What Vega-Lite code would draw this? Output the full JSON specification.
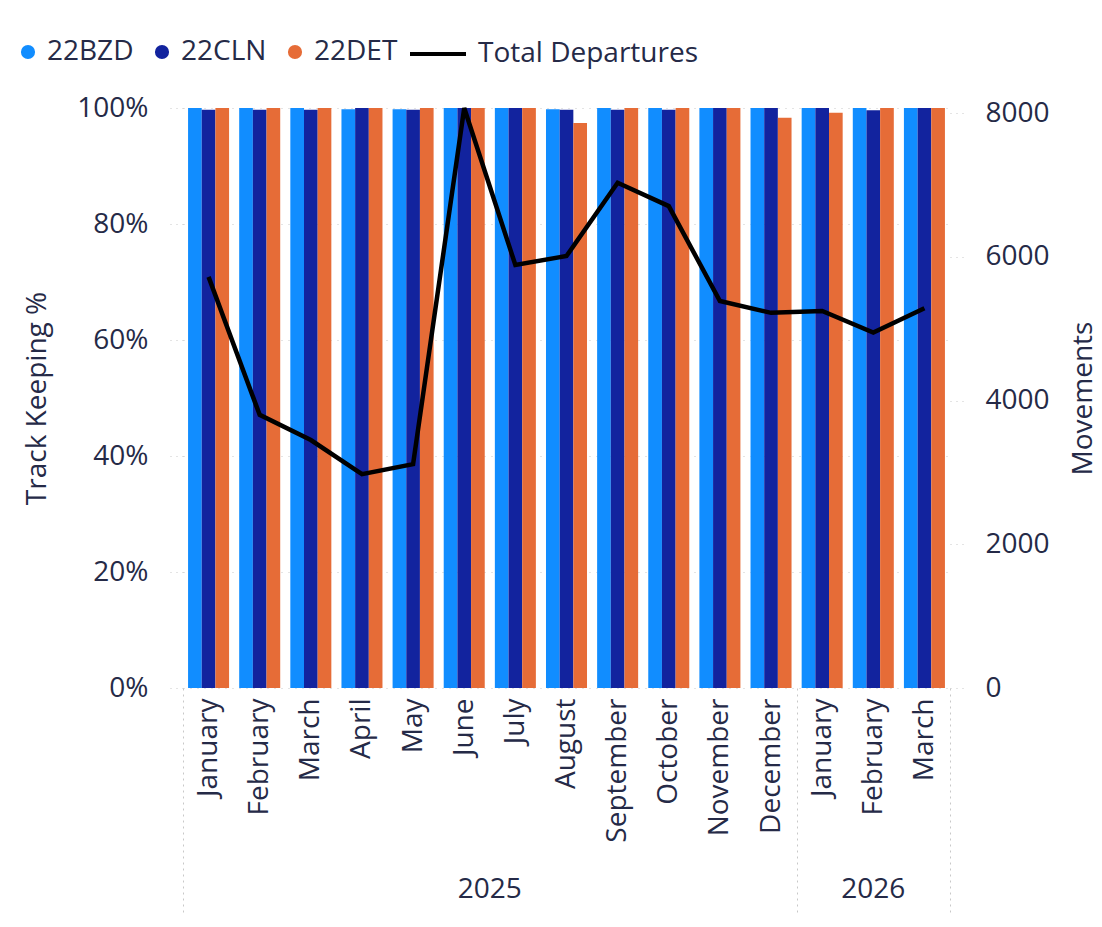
{
  "$schema": "https://vega.github.io/schema/vega-lite/v6.json",
  "autosize": {"type": "none"},
  "padding": {"left": 183, "top": 108, "right": 152, "bottom": 239},
  "width": 767,
  "height": 580,
  "background": "white",
  "config": {
    "font": "Open Sans",
    "view": {"stroke": null},
    "axis": {
      "labelColor": "#252A47",
      "titleColor": "#252A47",
      "labelFont": "Open Sans",
      "titleFont": "Open Sans",
      "labelFontSize": 28,
      "titleFontSize": 28,
      "titleFontWeight": "normal"
    },
    "legend": {
      "labelFont": "Open Sans",
      "labelFontSize": 28,
      "labelColor": "#252A47",
      "labelLimit": 400
    }
  },
  "datasets": {
    "bars": [
      {"key": "2025|January", "series": "22BZD", "pct": 1.0},
      {"key": "2025|January", "series": "22CLN", "pct": 0.997},
      {"key": "2025|January", "series": "22DET", "pct": 1.0},
      {"key": "2025|February", "series": "22BZD", "pct": 1.0},
      {"key": "2025|February", "series": "22CLN", "pct": 0.997},
      {"key": "2025|February", "series": "22DET", "pct": 1.0},
      {"key": "2025|March", "series": "22BZD", "pct": 1.0},
      {"key": "2025|March", "series": "22CLN", "pct": 0.997},
      {"key": "2025|March", "series": "22DET", "pct": 1.0},
      {"key": "2025|April", "series": "22BZD", "pct": 0.998},
      {"key": "2025|April", "series": "22CLN", "pct": 1.0},
      {"key": "2025|April", "series": "22DET", "pct": 1.0},
      {"key": "2025|May", "series": "22BZD", "pct": 0.998},
      {"key": "2025|May", "series": "22CLN", "pct": 0.997},
      {"key": "2025|May", "series": "22DET", "pct": 1.0},
      {"key": "2025|June", "series": "22BZD", "pct": 1.0},
      {"key": "2025|June", "series": "22CLN", "pct": 1.0},
      {"key": "2025|June", "series": "22DET", "pct": 1.0},
      {"key": "2025|July", "series": "22BZD", "pct": 1.0},
      {"key": "2025|July", "series": "22CLN", "pct": 1.0},
      {"key": "2025|July", "series": "22DET", "pct": 1.0},
      {"key": "2025|August", "series": "22BZD", "pct": 0.998},
      {"key": "2025|August", "series": "22CLN", "pct": 0.997},
      {"key": "2025|August", "series": "22DET", "pct": 0.974},
      {"key": "2025|September", "series": "22BZD", "pct": 1.0},
      {"key": "2025|September", "series": "22CLN", "pct": 0.997},
      {"key": "2025|September", "series": "22DET", "pct": 1.0},
      {"key": "2025|October", "series": "22BZD", "pct": 1.0},
      {"key": "2025|October", "series": "22CLN", "pct": 0.997},
      {"key": "2025|October", "series": "22DET", "pct": 1.0},
      {"key": "2025|November", "series": "22BZD", "pct": 1.0},
      {"key": "2025|November", "series": "22CLN", "pct": 1.0},
      {"key": "2025|November", "series": "22DET", "pct": 1.0},
      {"key": "2025|December", "series": "22BZD", "pct": 1.0},
      {"key": "2025|December", "series": "22CLN", "pct": 1.0},
      {"key": "2025|December", "series": "22DET", "pct": 0.983},
      {"key": "2026|January", "series": "22BZD", "pct": 1.0},
      {"key": "2026|January", "series": "22CLN", "pct": 1.0},
      {"key": "2026|January", "series": "22DET", "pct": 0.992},
      {"key": "2026|February", "series": "22BZD", "pct": 1.0},
      {"key": "2026|February", "series": "22CLN", "pct": 0.996},
      {"key": "2026|February", "series": "22DET", "pct": 1.0},
      {"key": "2026|March", "series": "22BZD", "pct": 1.0},
      {"key": "2026|March", "series": "22CLN", "pct": 1.0},
      {"key": "2026|March", "series": "22DET", "pct": 1.0}
    ],
    "dep": [
      {"key": "2025|January", "departures": 5720},
      {"key": "2025|February", "departures": 3800},
      {"key": "2025|March", "departures": 3450},
      {"key": "2025|April", "departures": 2975},
      {"key": "2025|May", "departures": 3115},
      {"key": "2025|June", "departures": 8070},
      {"key": "2025|July", "departures": 5885},
      {"key": "2025|August", "departures": 6010},
      {"key": "2025|September", "departures": 7030},
      {"key": "2025|October", "departures": 6705},
      {"key": "2025|November", "departures": 5385},
      {"key": "2025|December", "departures": 5220},
      {"key": "2026|January", "departures": 5245},
      {"key": "2026|February", "departures": 4945},
      {"key": "2026|March", "departures": 5285}
    ]
  },
  "layer": [
    {
      "data": {"name": "bars"},
      "mark": {"type": "bar"},
      "encoding": {
        "x": {
          "field": "key",
          "type": "nominal",
          "scale": {
            "domain": ["2025|January", "2025|February", "2025|March", "2025|April", "2025|May", "2025|June", "2025|July", "2025|August", "2025|September", "2025|October", "2025|November", "2025|December", "2026|January", "2026|February", "2026|March"],
            "paddingInner": 0,
            "paddingOuter": 0
          },
          "axis": {
            "orient": "bottom",
            "title": null,
            "labelAngle": -90,
            "labelExpr": "isValid(datum.value) ? split(datum.value, '|')[1] : ''",
            "domain": false,
            "grid": false,
            "tickBand": "extent",
            "ticks": true,
            "tickSize": 227,
            "tickColor": "#C8C8C8",
            "tickDash": [2, 4],
            "tickWidth": 1,
            "tickOpacity": {"condition": {"test": "!isValid(datum.value) || datum.value === '2025|December' || datum.value === '2026|March'", "value": 1}, "value": 0},
            "labelPadding": -217
          }
        },
        "xOffset": {
          "field": "series",
          "type": "nominal",
          "scale": {"domain": ["22BZD", "22CLN", "22DET"], "paddingInner": 0, "paddingOuter": 0.37}
        },
        "y": {
          "field": "pct",
          "type": "quantitative",
          "scale": {"domain": [0, 1]},
          "axis": {
            "title": "Track Keeping %",
            "format": ".0%",
            "values": [0, 0.2, 0.4, 0.6, 0.8, 1],
            "grid": true,
            "gridDash": [1, 6],
            "gridColor": "#C8C8C8",
            "domain": false,
            "tickSize": 15,
            "tickDash": [1, 5],
            "tickColor": "#C8C8C8",
            "labelPadding": 20,
            "titlePadding": 25
          }
        },
        "color": {
          "field": "series",
          "type": "nominal",
          "scale": {"domain": ["22BZD", "22CLN", "22DET"], "range": ["#118DFF", "#12239E", "#E66C37"]},
          "legend": {
            "title": null,
            "orient": "none",
            "legendX": -169,
            "legendY": -70,
            "direction": "horizontal",
            "symbolType": "circle",
            "symbolSize": 200,
            "labelOffset": 5,
            "columnPadding": 14,
            "padding": 0
          }
        }
      }
    },
    {
      "data": {"name": "dep"},
      "mark": {"type": "line", "strokeWidth": 4.5, "strokeJoin": "miter"},
      "encoding": {
        "x": {
          "field": "key",
          "type": "nominal",
          "axis": {
            "orient": "bottom",
            "title": null,
            "domain": false,
            "ticks": false,
            "grid": false,
            "values": ["2025|June", "2026|February"],
            "labelExpr": "split(datum.value, '|')[0]",
            "labelAngle": 0,
            "labelPadding": 187,
            "labelOffset": {"condition": {"test": "datum.value === '2025|June'", "value": 25.5}, "value": 0}
          }
        },
        "y": {
          "field": "departures",
          "type": "quantitative",
          "scale": {"domain": [0, 8070]},
          "axis": {
            "orient": "right",
            "title": "Movements",
            "values": [0, 2000, 4000, 6000, 8000],
            "format": "d",
            "grid": false,
            "domain": false,
            "tickSize": 15,
            "tickDash": [1, 5],
            "tickColor": "#C8C8C8",
            "labelPadding": 20,
            "titleAngle": 270,
            "titleBaseline": "top",
            "titlePadding": 20
          }
        },
        "stroke": {
          "datum": "Total Departures",
          "scale": {"range": ["#000000"]},
          "legend": {
            "title": null,
            "orient": "none",
            "legendX": 225,
            "legendY": -84,
            "direction": "horizontal",
            "symbolType": "stroke",
            "symbolSize": 3136,
            "symbolStrokeWidth": 4,
            "labelOffset": 10,
            "padding": 0
          }
        }
      }
    }
  ],
  "resolve": {"scale": {"y": "independent"}, "axis": {"x": "independent"}}
}
